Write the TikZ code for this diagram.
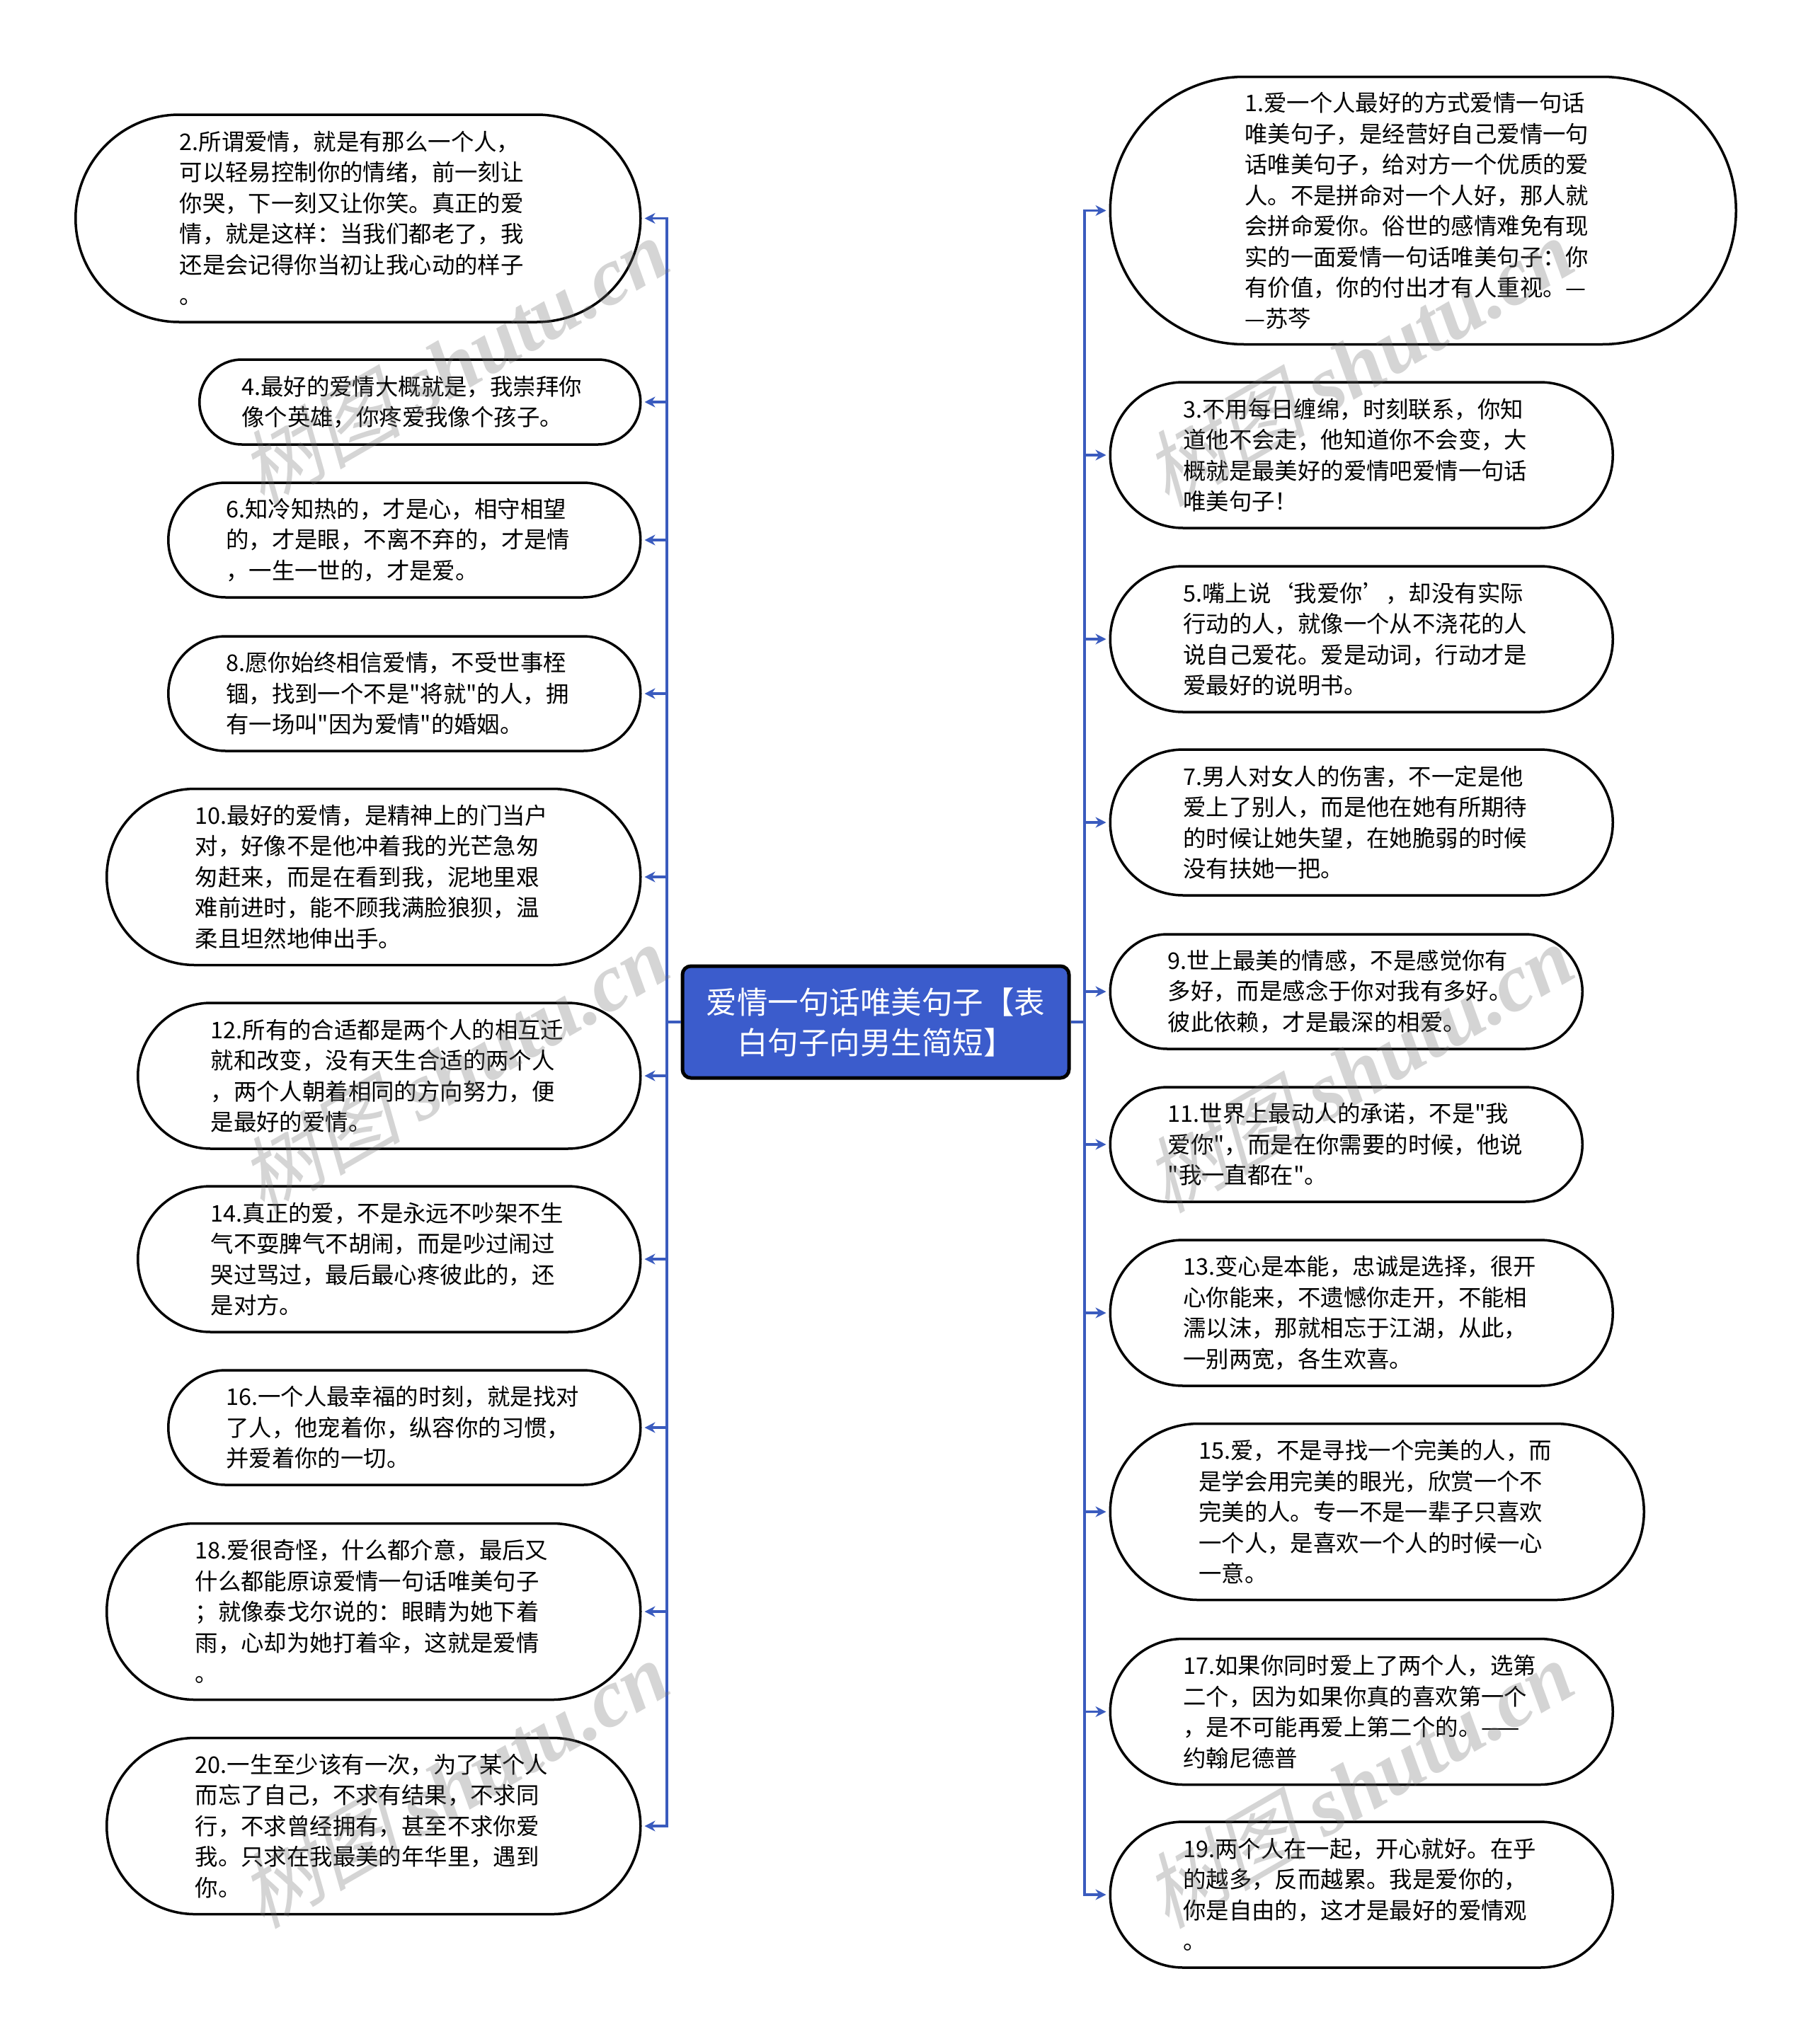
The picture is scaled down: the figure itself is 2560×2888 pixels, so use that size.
\documentclass[tikz,border=0pt]{standalone}
\usepackage{fontspec}
\setmainfont[Ligatures=TeXOff]{Noto Sans CJK SC}
\newfontfamily\markcjk[FakeSlant=0.25]{Noto Sans CJK SC}
\newfontfamily\marklatin{Liberation Serif}
\usetikzlibrary{arrows.meta,%
	shapes.misc}
\definecolor{rootblue}{HTML}{3B5CCC}
\definecolor{linkblue}{HTML}{3A5BBE}

\begin{document}
\begin{tikzpicture}[x=1pt,y=-1pt,
	idea_node/.style={rounded rectangle,draw=black,fill=white,line width=3.5pt,inner xsep=0pt,inner ysep=0pt,text width=504pt,align=left,font=\fontsize{32.4}{43.5}\selectfont},
	left_node/.style={idea_node,anchor=east},
	right_node/.style={idea_node,anchor=west},
	two_lines/.style={minimum width=623pt,minimum height=120pt},
	three_lines/.style={minimum width=667pt,minimum height=162pt},
	four_lines/.style={minimum width=710pt,minimum height=206pt},
	five_lines/.style={minimum width=754pt,minimum height=249pt},
	six_lines/.style={minimum width=798pt,minimum height=293pt},
	eight_lines/.style={minimum width=884pt,minimum height=378pt},
	root_node/.style={rectangle,rounded corners=12pt,draw=black,fill=rootblue,line width=5pt,text=white,minimum width=546pt,minimum height=158pt,align=center,font=\fontsize{43.5}{57}\selectfont},
	link_line/.style={draw=linkblue,line width=3.5pt,-{Stealth[length=15pt,width=15pt]},shorten >=4pt},
	water_mark/.style={text=black!55,opacity=0.3,rotate=30,font=\fontsize{116}{116}\selectfont}]
	
	\useasboundingbox (0,0) rectangle (2560,2888);
	
	\node[root_node] (root) at (1237,1444) {爱情一句话唯美句子【表\\白句子向男生简短】};
	
	\coordinate (ltrunk) at (942,1444);
	\coordinate (rtrunk) at (1532,1444);
	
	\node[left_node,six_lines] (n2) at (906.5,308.5) {2.所谓爱情，就是有那么一个人，\\可以轻易控制你的情绪，前一刻让\\你哭，下一刻又让你笑。真正的爱\\情，就是这样：当我们都老了，我\\还是会记得你当初让我心动的样子\\。};
	\node[left_node,two_lines] (n4) at (906.5,568) {4.最好的爱情大概就是，我崇拜你\\像个英雄，你疼爱我像个孩子。};
	\node[left_node,three_lines] (n6) at (906.5,763) {6.知冷知热的，才是心，相守相望\\的，才是眼，不离不弃的，才是情\\，一生一世的，才是爱。};
	\node[left_node,three_lines] (n8) at (906.5,980) {8.愿你始终相信爱情，不受世事桎\\锢，找到一个不是"将就"的人，拥\\有一场叫"因为爱情"的婚姻。};
	\node[left_node,five_lines] (n10) at (906.5,1239) {10.最好的爱情，是精神上的门当户\\对，好像不是他冲着我的光芒急匆\\匆赶来，而是在看到我，泥地里艰\\难前进时，能不顾我满脸狼狈，温\\柔且坦然地伸出手。};
	\node[left_node,four_lines] (n12) at (906.5,1520) {12.所有的合适都是两个人的相互迁\\就和改变，没有天生合适的两个人\\，两个人朝着相同的方向努力，便\\是最好的爱情。};
	\node[left_node,four_lines] (n14) at (906.5,1779) {14.真正的爱，不是永远不吵架不生\\气不耍脾气不胡闹，而是吵过闹过\\哭过骂过，最后最心疼彼此的，还\\是对方。};
	\node[left_node,three_lines] (n16) at (906.5,2017) {16.一个人最幸福的时刻，就是找对\\了人，他宠着你，纵容你的习惯，\\并爱着你的一切。};
	\node[left_node,five_lines] (n18) at (906.5,2277) {18.爱很奇怪，什么都介意，最后又\\什么都能原谅爱情一句话唯美句子\\；就像泰戈尔说的：眼睛为她下着\\雨，心却为她打着伞，这就是爱情\\。};
	\node[left_node,five_lines] (n20) at (906.5,2580) {20.一生至少该有一次，为了某个人\\而忘了自己，不求有结果，不求同\\行，不求曾经拥有，甚至不求你爱\\我。只求在我最美的年华里，遇到\\你。};
	
	\node[right_node,eight_lines] (n1) at (1566.5,297.5) {1.爱一个人最好的方式爱情一句话\\唯美句子，是经营好自己爱情一句\\话唯美句子，给对方一个优质的爱\\人。不是拼命对一个人好，那人就\\会拼命爱你。俗世的感情难免有现\\实的一面爱情一句话唯美句子：你\\有价值，你的付出才有人重视。—\\—苏芩};
	\node[right_node,four_lines] (n3) at (1566.5,643) {3.不用每日缠绵，时刻联系，你知\\道他不会走，他知道你不会变，大\\概就是最美好的爱情吧爱情一句话\\唯美句子！};
	\node[right_node,four_lines] (n5) at (1566.5,903) {5.嘴上说‘我爱你’，却没有实际\\行动的人，就像一个从不浇花的人\\说自己爱花。爱是动词，行动才是\\爱最好的说明书。};
	\node[right_node,four_lines] (n7) at (1566.5,1162) {7.男人对女人的伤害，不一定是他\\爱上了别人，而是他在她有所期待\\的时候让她失望，在她脆弱的时候\\没有扶她一把。};
	\node[right_node,three_lines] (n9) at (1566.5,1401) {9.世上最美的情感，不是感觉你有\\多好，而是感念于你对我有多好。\\彼此依赖，才是最深的相爱。};
	\node[right_node,three_lines] (n11) at (1566.5,1617) {11.世界上最动人的承诺，不是"我\\爱你"，而是在你需要的时候，他说\\"我一直都在"。};
	\node[right_node,four_lines] (n13) at (1566.5,1855) {13.变心是本能，忠诚是选择，很开\\心你能来，不遗憾你走开，不能相\\濡以沫，那就相忘于江湖，从此，\\一别两宽，各生欢喜。};
	\node[right_node,five_lines] (n15) at (1566.5,2136) {15.爱，不是寻找一个完美的人，而\\是学会用完美的眼光，欣赏一个不\\完美的人。专一不是一辈子只喜欢\\一个人，是喜欢一个人的时候一心\\一意。};
	\node[right_node,four_lines] (n17) at (1566.5,2418.5) {17.如果你同时爱上了两个人，选第\\二个，因为如果你真的喜欢第一个\\，是不可能再爱上第二个的。——\\约翰尼德普};
	\node[right_node,four_lines] (n19) at (1566.5,2677) {19.两个人在一起，开心就好。在乎\\的越多，反而越累。我是爱你的，\\你是自由的，这才是最好的爱情观\\。};
	
	\draw[line width=3.5pt,draw=linkblue] (root.west) -- (ltrunk);
	\draw[line width=3.5pt,draw=linkblue] (root.east) -- (rtrunk);
	
	\draw[link_line] (ltrunk) |- (n2.east);
	\draw[link_line] (ltrunk) |- (n4.east);
	\draw[link_line] (ltrunk) |- (n6.east);
	\draw[link_line] (ltrunk) |- (n8.east);
	\draw[link_line] (ltrunk) |- (n10.east);
	\draw[link_line] (ltrunk) |- (n12.east);
	\draw[link_line] (ltrunk) |- (n14.east);
	\draw[link_line] (ltrunk) |- (n16.east);
	\draw[link_line] (ltrunk) |- (n18.east);
	\draw[link_line] (ltrunk) |- (n20.east);
	
	\draw[link_line] (rtrunk) |- (n1.west);
	\draw[link_line] (rtrunk) |- (n3.west);
	\draw[link_line] (rtrunk) |- (n5.west);
	\draw[link_line] (rtrunk) |- (n7.west);
	\draw[link_line] (rtrunk) |- (n9.west);
	\draw[link_line] (rtrunk) |- (n11.west);
	\draw[link_line] (rtrunk) |- (n13.west);
	\draw[link_line] (rtrunk) |- (n15.west);
	\draw[link_line] (rtrunk) |- (n17.west);
	\draw[link_line] (rtrunk) |- (n19.west);
	
	\node[water_mark] (wm1) at (640,511) {\markcjk 树图 \marklatin\bfseries\itshape shutu.cn};
	\node[water_mark] (wm2) at (640,1509) {\markcjk 树图 \marklatin\bfseries\itshape shutu.cn};
	\node[water_mark] (wm3) at (640,2520) {\markcjk 树图 \marklatin\bfseries\itshape shutu.cn};
	\node[water_mark] (wm4) at (1918,511) {\markcjk 树图 \marklatin\bfseries\itshape shutu.cn};
	\node[water_mark] (wm5) at (1918,1509) {\markcjk 树图 \marklatin\bfseries\itshape shutu.cn};
	\node[water_mark] (wm6) at (1918,2520) {\markcjk 树图 \marklatin\bfseries\itshape shutu.cn};
\end{tikzpicture}
\end{document}
